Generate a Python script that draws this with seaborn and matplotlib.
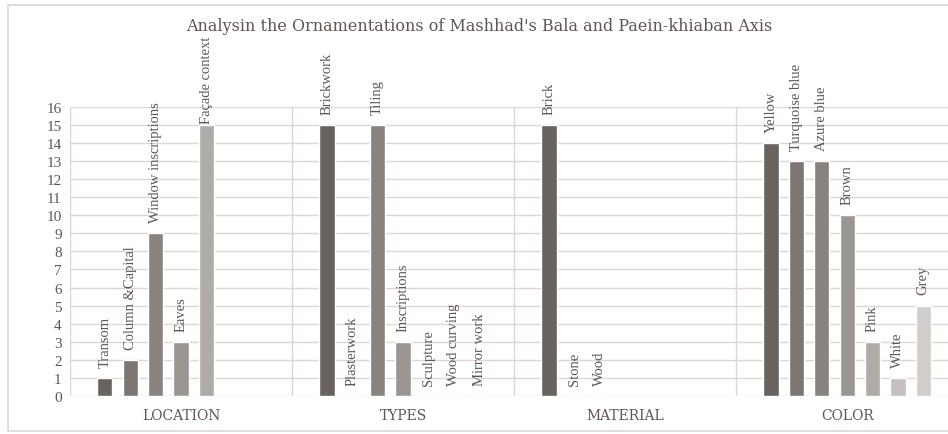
#!/usr/bin/env python3

import matplotlib.pyplot as plt
import numpy as np
import pandas as pd
import seaborn as sns
from matplotlib.patches import Rectangle

# Data
groups = ["LOCATION", "TYPES", "MATERIAL", "COLOR"]

location_items = ["Transom", "Column &Capital", "Window inscriptions", "Eaves", "Façade context"]
location_values = [1, 2, 9, 3, 15]

types_items = ["Brickwork", "Plasterwork", "Tiling", "Inscriptions", "Sculpture",
               "Wood curving", "Mirror work"]
types_values = [15, 0, 15, 3, 0, 0, 0]

material_items = ["Brick", "Stone", "Wood"]
material_values = [15, 0, 0]

color_items = ["Yellow", "Turquoise blue", "Azure blue", "Brown", "Pink", "White", "Grey"]
color_values = [14, 13, 13, 10, 3, 1, 5]

# Build one long table: group, slot inside group, value, label
rows = []
for g, items, vals in zip(groups,
                          [location_items, types_items, material_items, color_items],
                          [location_values, types_values, material_values, color_values]):
    for slot, (name, v) in enumerate(zip(items, vals)):
        rows.append({"group": g, "slot": slot, "value": v, "label": name})
data = pd.DataFrame(rows)

n_slots = 7
slot_colors = ["#6b635e", "#7f7772", "#8b837e", "#9d9591", "#b2aba7", "#c6c0bc", "#d3cecb"]
text_color = "#5e5653"
grid_color = "#ddd6d4"

sns.set_style("white")
plt.rcParams["font.family"] = ["Liberation Serif", "DejaVu Serif"]

fig = plt.figure(figsize=(9.48, 4.35), dpi=100)
ax = fig.add_axes([0.0738, 0.0874, 0.937, 0.665])

total_width = 0.8
sns.barplot(
    data=data, x="group", y="value", hue="slot",
    order=groups, hue_order=list(range(n_slots)),
    palette=slot_colors, dodge=True, width=total_width, gap=0.4,
    legend=False, ax=ax, zorder=3
)

ax.set(xlim=(-0.5, len(groups) - 0.5), ylim=(0, 16), yticks=np.arange(0, 17))
ax.set_xlabel("")
ax.set_ylabel("")

# Horizontal grid + vertical group separators
for y in range(0, 17):
    ax.axhline(y, color=grid_color, lw=1, zorder=1)
for x in np.arange(-0.5, len(groups), 1.0):
    ax.axvline(x, color=grid_color, lw=1, zorder=1)
for s in ax.spines.values():
    s.set_visible(False)

ax.tick_params(axis="y", length=0, labelsize=11, labelcolor=text_color, pad=6)
ax.tick_params(axis="x", length=0, labelcolor=text_color, pad=9)
ax.set_xticks(range(len(groups)))
ax.set_xticklabels(groups, family=["DejaVu Serif"], fontsize=10)

# Rotated labels over each bar (the tall Façade label sits tight on its bar)
slot_w = total_width / n_slots
gidx = {g: i for i, g in enumerate(groups)}
for _, r in data.iterrows():
    x = gidx[r["group"]] + (r["slot"] - (n_slots - 1) / 2) * slot_w
    pad = 1 if r["label"] == "Façade context" else 8
    ax.annotate(
        r["label"], xy=(x, r["value"]), xytext=(0, pad), textcoords="offset points",
        rotation=90, ha="center", va="bottom", fontsize=10.5, color=text_color,
        annotation_clip=False, zorder=4
    )

fig.text(0.505, 0.94, "Analysin the Ornamentations of Mashhad's Bala and Paein-khiaban Axis",
         ha="center", va="center", fontsize=11.5, color=text_color,
         family=["DejaVu Serif"])

# Light frame around the whole chart
fig.patches.append(Rectangle((0.008, 0.008), 1.2, 0.978, transform=fig.transFigure,
                             fill=False, edgecolor="#ddd6d4", lw=1.2))

fig.savefig("out.png", dpi=100)
